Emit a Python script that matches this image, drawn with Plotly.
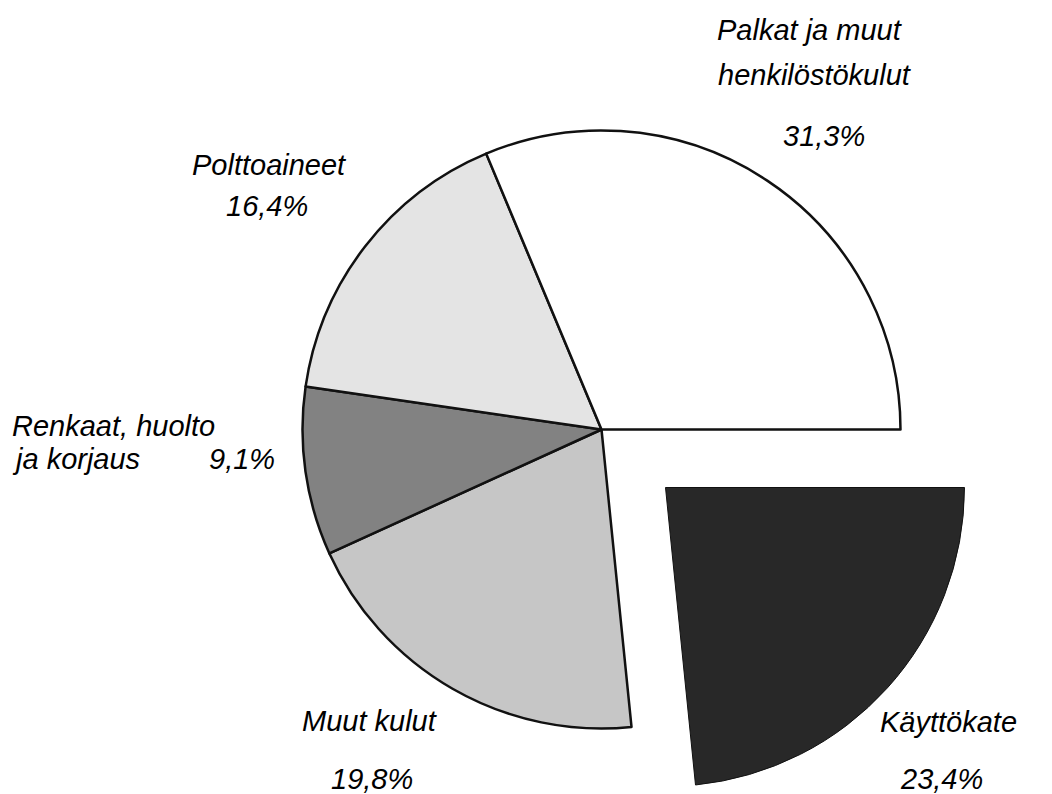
"""Pie chart of cost structure (kustannusrakenne) with one exploded slice."""

import plotly.graph_objects as go

# data, in counter-clockwise order starting at 3 o'clock
labels = ["Palkat ja muut henkilöstökulut", "Polttoaineet", "Renkaat, huolto ja korjaus",
          "Muut kulut", "Käyttökate"]
shares = [31.3, 16.4, 9.1, 19.8, 23.4]
pct_text = ["31,3%", "16,4%", "9,1%", "19,8%", "23,4%"]
fills = ["#ffffff", "#e4e4e4", "#828282", "#c6c6c6", "#282828"]
exploded = "Käyttökate"

W, H = 1052, 794
PAGE_MARGIN = 8              # default body margin of the html page
R = 299                      # pie radius in px
CENTER = (601.5 - PAGE_MARGIN, 429.5 - PAGE_MARGIN)
PULL_OFFSET = (64, 58)       # shift of the exploded slice in px

FONT = "Liberation Sans, Arial, Helvetica, sans-serif"


def domain_for(cx, cy):
    return dict(x=[(cx - R) / W, (cx + R) / W],
                y=[1 - (cy + R) / H, 1 - (cy - R) / H])


# plotly draws clockwise from the rotation angle, so feed the slices reversed
rev = list(range(len(labels)))[::-1]
r_labels = [labels[i] for i in rev]
r_values = [shares[i] for i in rev]

fig = go.Figure()

# main pie, exploded slice left blank
fig.add_trace(go.Pie(
    labels=r_labels,
    values=r_values,
    sort=False,
    direction="clockwise",
    rotation=90,
    textinfo="none",
    hoverinfo="skip",
    showlegend=False,
    domain=domain_for(*CENTER),
    marker=dict(
        colors=["rgba(0,0,0,0)" if l == exploded else fills[labels.index(l)] for l in r_labels],
        line=dict(color="#111111", width=[0 if l == exploded else 2.5 for l in r_labels]),
    ),
))

# exploded slice drawn as its own pie, shifted out along its bisector
fig.add_trace(go.Pie(
    labels=r_labels,
    values=r_values,
    sort=False,
    direction="clockwise",
    rotation=90,
    textinfo="none",
    hoverinfo="skip",
    showlegend=False,
    domain=domain_for(CENTER[0] + PULL_OFFSET[0], CENTER[1] + PULL_OFFSET[1]),
    marker=dict(
        colors=[fills[labels.index(l)] if l == exploded else "rgba(0,0,0,0)" for l in r_labels],
        line=dict(color="#111111", width=[1 if l == exploded else 0 for l in r_labels]),
    ),
))

# slice labels: (text, x px, baseline px, anchor) as seen on the page
label_lines = [
    ("Palkat ja muut", 810, 42, "center"),
    ("henkilöstökulut", 815, 87, "center"),
    (pct_text[0], 824, 148, "center"),
    ("Polttoaineet", 269, 177, "center"),
    (pct_text[1], 267, 218, "center"),
    ("Renkaat, huolto", 12, 438, "left"),
    ("ja korjaus", 12, 471, "left"),
    (pct_text[2], 209, 471, "left"),
    ("Muut kulut", 370, 733, "center"),
    (pct_text[3], 372, 791, "center"),
    ("Käyttökate", 948, 734, "center"),
    (pct_text[4], 941, 791, "center"),
]

for text, px, base, anchor in label_lines:
    x = px - PAGE_MARGIN - (2 if anchor == "left" else 0)
    y = base - 12 - PAGE_MARGIN
    fig.add_annotation(
        text=f"<i>{text}</i>",
        x=x / W, y=1 - y / H,
        xref="paper", yref="paper",
        xanchor=anchor, yanchor="middle",
        showarrow=False,
        font=dict(family=FONT, size=29, color="#000000"),
    )

fig.update_layout(
    width=W,
    height=H,
    paper_bgcolor="white",
    plot_bgcolor="white",
    margin=dict(l=0, r=0, t=0, b=0),
    showlegend=False,
)

fig.write_html("out.html")
